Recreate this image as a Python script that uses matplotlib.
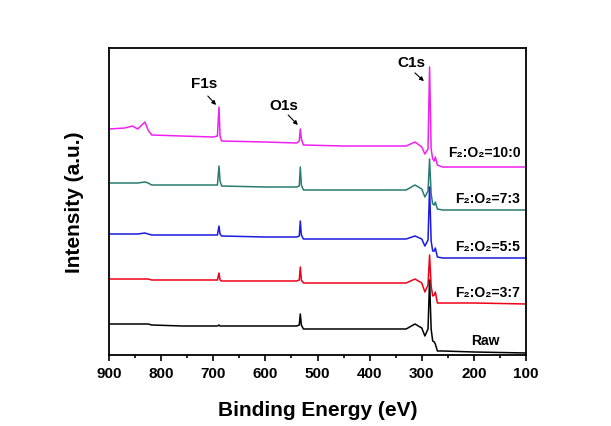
import matplotlib
matplotlib.use("Agg")
import matplotlib.pyplot as plt

plt.rcParams["font.family"] = ["Liberation Sans", "DejaVu Sans"]
plt.rcParams["font.weight"] = "bold"

# binding energy grid (eV) shared by all spectra
energy = [900, 870, 855, 845, 831, 825, 818, 760, 700, 692, 689, 687, 684, 600,
          540, 535, 533, 531, 527, 450, 330, 313, 300, 294, 288, 285, 282, 279,
          276, 274, 270, 260, 200, 100]

# stacked intensities (a.u., offset as in the figure)
raw = [31, 31, 31, 31, 31, 31, 30, 29, 29, 29, 30, 29, 29, 29,
       29, 30, 41, 30, 26, 26, 26, 31, 27, 19, 26, 75, 26, 14,
       13, 11, 4, 4, 3, 2]
fo_37 = [76, 76, 76, 76, 76, 76, 75, 75, 75, 75, 82, 75, 74, 74,
         74, 75, 88, 75, 72, 72, 72, 76, 72, 63, 70, 100, 69, 59,
         60, 63, 52, 52, 52, 51]
fo_55 = [121, 121, 121, 121, 122, 121, 120, 120, 120, 120, 129, 121, 119, 118,
         118, 119, 134, 120, 116, 116, 116, 119, 116, 109, 115, 168, 114, 104,
         104, 107, 98, 97, 97, 97]
fo_73 = [172, 172, 172, 172, 173, 172, 170, 170, 170, 170, 189, 174, 169, 168,
         168, 169, 188, 170, 165, 165, 165, 170, 166, 158, 164, 196, 161, 151,
         150, 153, 146, 145, 145, 145]
fo_100 = [226, 227, 229, 226, 233, 225, 220, 219, 218, 219, 248, 219, 214, 213,
          212, 214, 226, 216, 210, 209, 209, 213, 208, 201, 206, 288, 206, 196,
          194, 198, 190, 188, 188, 188]

labels = ["F\u2082:O\u2082=10:0", "F\u2082:O\u2082=7:3", "F\u2082:O\u2082=5:5",
          "F\u2082:O\u2082=3:7", "Raw"]
label_y = [203, 157, 109, 63, 14.5]

peaks = ["F1s", "O1s", "C1s"]
peak_text = [(717, 272), (564, 250), (319, 293)]
arrow_tail = [(714, 261), (560, 242), (317, 284)]
arrow_head = [(691, 248), (534, 228), (292, 272)]

fig = plt.figure(figsize=(6.11, 4.27), dpi=100)
ax = fig.add_axes([0.1784, 0.1663, 0.6825, 0.7189])

series = [fo_100, fo_73, fo_55, fo_37, raw]
colors = ["#f020f0", "#2a7a70", "#1a1ae0", "#f00018", "black"]
for y, c in zip(series, colors):
    ax.plot(energy, y, color=c, lw=1.1)

for lab, ly in zip(labels, label_y):
    lx = 150 if lab == "Raw" else 111
    ax.text(lx, ly, lab, ha="right", va="center", fontsize=10, fontweight="bold")

for name, (tx, ty), tail, head in zip(peaks, peak_text, arrow_tail, arrow_head):
    ax.text(tx, ty, name, ha="center", va="center", fontsize=11, fontweight="bold")
    ax.annotate("", xy=head, xytext=tail,
                arrowprops=dict(arrowstyle="-|>", color="black", lw=0.8,
                                mutation_scale=6))

ax.set_xlim(900, 100)
ax.set_ylim(0, 307)
ax.set_xticks(range(900, 99, -100))
ax.set_xticks(range(850, 100, -100), minor=True)
ax.set_yticks([])
ax.tick_params(axis="x", which="major", direction="out", length=4, width=1.2,
               labelsize=11, pad=4)
ax.tick_params(axis="x", which="minor", direction="out", length=2.5, width=1.2)
for lbl in ax.get_xticklabels():
    lbl.set_fontweight("bold")
for s in ax.spines.values():
    s.set_linewidth(1.3)

ax.set_xlabel("Binding Energy (eV)", fontsize=15, fontweight="bold", labelpad=14)
ax.set_ylabel("Intensity (a.u.)", fontsize=15, fontweight="bold", labelpad=18)

fig.savefig("out.png", dpi=100)
